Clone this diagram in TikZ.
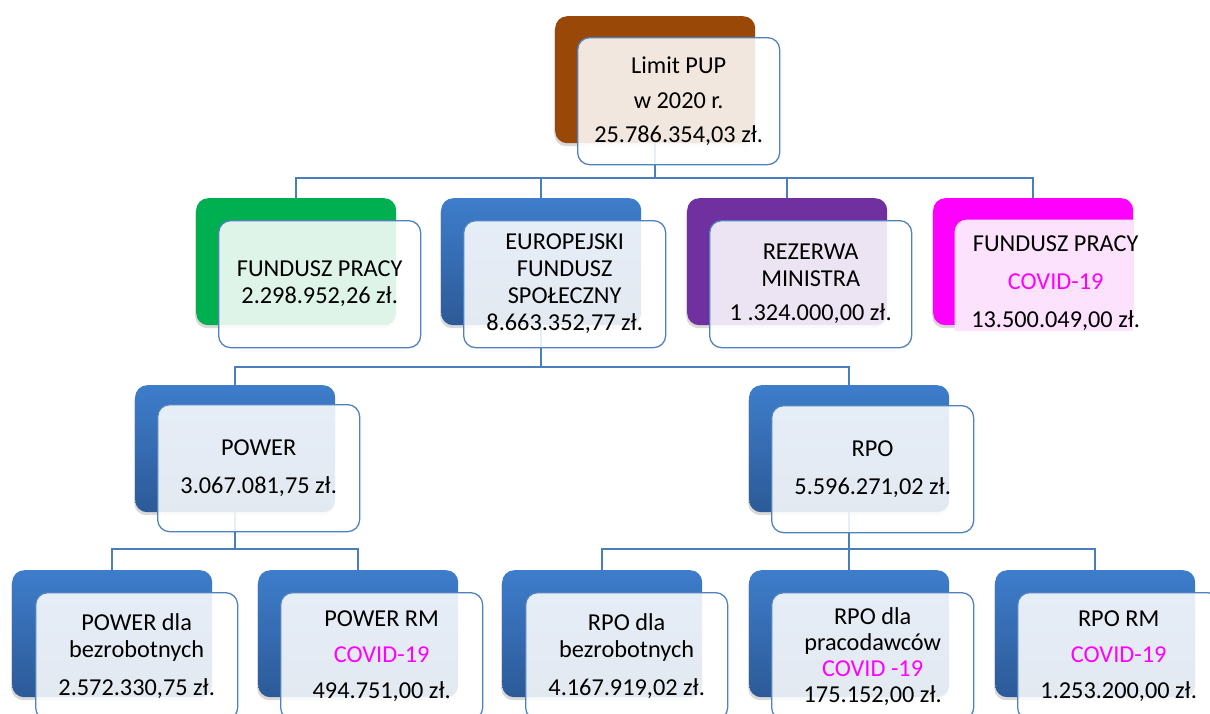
\documentclass[tikz,border=0pt]{standalone}
\usepackage{fontspec}
\setmainfont{Carlito}
\usepackage{tikz}
\usetikzlibrary{shadows}
\definecolor{brownbox}{RGB}{154,72,8}
\definecolor{greenbox}{RGB}{0,176,80}
\definecolor{purplebox}{RGB}{112,48,160}
\definecolor{magentabox}{RGB}{255,0,255}
\definecolor{bluetop}{RGB}{62,125,203}
\definecolor{bluebottom}{RGB}{44,90,151}
\definecolor{framec}{RGB}{79,129,189}
\definecolor{linec}{RGB}{74,126,187}
\definecolor{pinkbox}{RGB}{253,226,253}
\newcommand{\covid}[1]{\textcolor{magentabox}{#1}}

\begin{document}
\begin{tikzpicture}[x=1pt, y=-1pt,
    backbox/.style={anchor=north west, inner sep=0pt, minimum width=200pt, minimum height=127pt,
      rounded corners=12pt, drop shadow={shadow xshift=-1pt, shadow yshift=-3pt, opacity=0.3}},
    blueback/.style={backbox, top color=bluetop, bottom color=bluebottom},
    frontbox/.style={anchor=north west, inner sep=0pt, minimum width=202pt, minimum height=127pt,
      rounded corners=12pt, draw=framec, line width=1.3pt, fill=white, fill opacity=0.87,
      text opacity=1, align=center, font=\fontsize{24.3}{27}\selectfont},
    link/.style={draw=linec, line width=1.5pt}]
    \useasboundingbox (0,0) rectangle (1210,713);
    \clip (0,0) rectangle (1210,713);

    % back boxes
    \node[backbox, fill=brownbox] (limitB) at (555,16) {};
    \node[backbox, fill=greenbox] (fpB) at (196,198) {};
    \node[blueback] (efsB) at (441,198) {};
    \node[backbox, fill=purplebox] (rezB) at (687,198) {};
    \node[backbox, fill=magentabox] (fpcB) at (933,198) {};
    \node[blueback] (powerB) at (135,385) {};
    \node[blueback] (rpoB) at (749,385) {};
    \node[blueback] (pdbB) at (12,570) {};
    \node[blueback] (prmB) at (258,570) {};
    \node[blueback] (rdbB) at (502,570) {};
    \node[blueback] (rpcB) at (749,570) {};
    \node[blueback] (rrmB) at (995,570) {};

    % connectors
    \coordinate (bus1) at (0,178);
    \coordinate (bus2) at (0,367);
    \coordinate (bus3) at (0,549);
    \draw[link] (limitB.south) -- (limitB.south |- bus1) -| (fpB.north);
    \draw[link] (limitB.south |- bus1) -| (efsB.north);
    \draw[link] (limitB.south |- bus1) -| (rezB.north);
    \draw[link] (limitB.south |- bus1) -| (fpcB.north);
    \draw[link] (efsB.south) -- (efsB.south |- bus2) -| (powerB.north);
    \draw[link] (efsB.south |- bus2) -| (rpoB.north);
    \draw[link] (powerB.south) -- (powerB.south |- bus3) -| (pdbB.north);
    \draw[link] (powerB.south |- bus3) -| (prmB.north);
    \draw[link] (rpoB.south) -- (rpoB.south |- bus3) -| (rdbB.north);
    \draw[link] (rpoB.south |- bus3) -| (rpcB.north);
    \draw[link] (rpoB.south |- bus3) -| (rrmB.north);

    % front boxes
    \node[frontbox] (limit) at (577,37) {Limit PUP\\[8pt] w 2020 r.\\[7pt] 25.786.354,03 zł.};
    \node[frontbox] (fp) at (218,220) {FUNDUSZ PRACY\\ 2.298.952,26 zł.};
    \node[frontbox] (efs) at (463,220) {EUROPEJSKI\\ FUNDUSZ\\ SPOŁECZNY\\ 8.663.352,77 zł.};
    \node[frontbox] (rez) at (709,220) {REZERWA\\ MINISTRA\\[7pt] 1 .324.000,00 zł.};
    \begin{scope}
      \clip (930,190) rectangle (1133,330);
      \node[frontbox, draw=none, fill=pinkbox, fill opacity=1] (fpcF) at (954,219) {};
    \end{scope}
    \node[align=center, font=\fontsize{24.3}{27}\selectfont] (fpc) at (fpcF.center)
      {FUNDUSZ PRACY\\[11pt] \covid{COVID-19}\\[11pt] 13.500.049,00 zł.};
    \node[frontbox] (power) at (157,404) {POWER\\[11pt] 3.067.081,75 zł.};
    \node[frontbox] (rpo) at (771,405) {RPO\\[11pt] 5.596.271,02 zł.};
    \node[frontbox] (pdb) at (35,592) {POWER dla\\ bezrobotnych\\[11pt] 2.572.330,75 zł.};
    \node[frontbox] (prm) at (280,592) {POWER RM\\[9pt] \covid{COVID-19}\\[9pt] 494.751,00 zł.};
    \node[frontbox] (rdb) at (525,592) {RPO dla\\ bezrobotnych\\[11pt] 4.167.919,02 zł.};
    \node[frontbox] (rpc) at (771,592) {RPO dla\\[-1pt] pracodawców\\[-1pt] \covid{COVID -19}\\[-1pt] 175.152,00 zł.};
    \node[frontbox] (rrm) at (1017,592) {RPO RM\\[9pt] \covid{COVID-19}\\[9pt] 1.253.200,00 zł.};
\end{tikzpicture}
\end{document}
